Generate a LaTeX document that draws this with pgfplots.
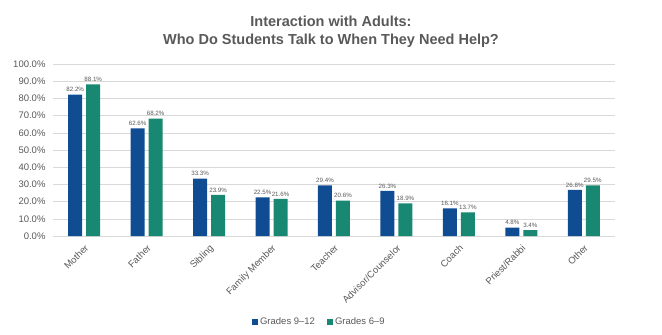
\documentclass[border=0pt]{standalone}
\usepackage{pgfplots}
\pgfplotsset{compat=1.18}
\usepackage{fontspec}
\setmainfont{Liberation Sans}
\definecolor{cblue}{RGB}{16,76,146}
\definecolor{cgreen}{RGB}{24,136,114}
\definecolor{tgray}{RGB}{89,89,89}
\definecolor{ggray}{RGB}{217,217,217}
\begin{document}
\begin{tikzpicture}
\path[use as bounding box] (0pt,0pt) rectangle (662pt,335pt);
\node[font=\bfseries\fontsize{14.5}{17.5}\selectfont, text=tgray, align=center] at (331pt,303pt) {Interaction with Adults:\\Who Do Students Talk to When They Need Help?};
\begin{axis}[
  at={(53pt,99pt)}, anchor=south west,
  width=562pt, height=172pt, scale only axis,
  xmin=-0.5, xmax=8.5, ymin=0, ymax=100,
  ytick={0,10,...,100},
  xtick={0,...,8},
  xticklabels={Mother,Father,Sibling,Family Member,Teacher,Advisor/Counselor,Coach,Priest/Rabbi,Other},
  x tick label style={rotate=45, anchor=north east, font=\fontsize{9.5}{10}\selectfont, text=tgray, inner sep=1pt},
  xticklabel shift=2pt,
  yticklabel={\pgfmathprintnumber[fixed,precision=1,fixed zerofill]{\tick}\%},
  y tick label style={font=\fontsize{9.5}{10}\selectfont, text=tgray, xshift=-4pt},
  /pgf/number format/assume math mode=true,
  ymajorgrids, grid style={ggray, line width=0.6pt},
  axis line style={draw=none},
  major tick style={draw=none},
  ybar, bar width=14pt,
  nodes near coords={\pgfmathprintnumber[fixed,precision=1,fixed zerofill]{\pgfplotspointmeta}\%},
  nodes near coords style={font=\fontsize{6.2}{7}\selectfont, text=tgray, /pgf/number format/assume math mode=true, inner sep=1.5pt, yshift=1pt},
  legend style={at={(0.474,-0.5)}, anchor=center, draw=none, font=\fontsize{9.5}{10}\selectfont, text=tgray, legend columns=2, /tikz/every even column/.append style={column sep=10pt}},
  legend image code/.code={\fill[#1] (0pt,-3pt) rectangle (6pt,3pt);},
]
\addplot[fill=cblue, draw=none, bar shift=-9pt] coordinates {(0,82.2) (1,62.6) (2,33.3) (3,22.5) (4,29.4) (5,26.3) (6,16.1) (7,4.8) (8,26.8)};
\addplot[fill=cgreen, draw=none, bar shift=9pt] coordinates {(0,88.1) (1,68.2) (2,23.9) (3,21.6) (4,20.6) (5,18.9) (6,13.7) (7,3.4) (8,29.5)};
\legend{Grades 9--12, Grades 6--9}
\end{axis}
\end{tikzpicture}
\end{document}
